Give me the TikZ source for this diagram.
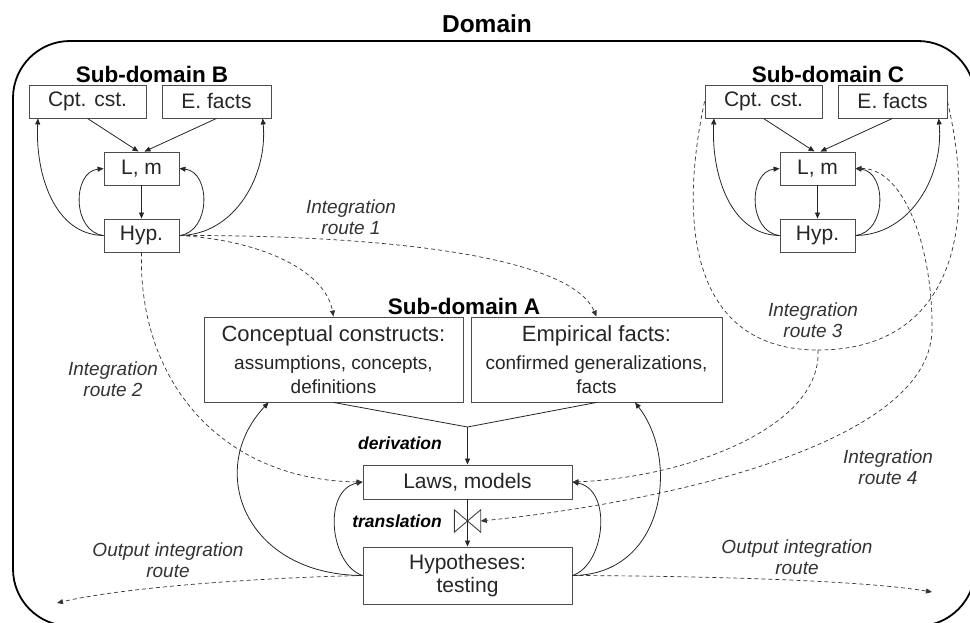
\documentclass[tikz,border=0pt]{standalone}
\usepackage{fontspec}
\setmainfont{Liberation Sans}
\usetikzlibrary{arrows.meta,calc}
\tikzset{
  box/.style={draw=black!70,line width=0.9pt,fill=white,inner sep=0pt,
              font=\fontsize{21}{23.5}\selectfont,text=black!85},
  abox/.style={box,align=center},
  ttl/.style={font=\bfseries\fontsize{22.5}{25}\selectfont},
  rlab/.style={font=\itshape\fontsize{19}{21.5}\selectfont,align=center,text=black!80},
  steplab/.style={font=\bfseries\itshape\fontsize{17.5}{20}\selectfont},
  arr/.style={-{Triangle[length=6pt,width=5pt]},line width=0.8pt,draw=black!85},
  dline/.style={line width=0.7pt,draw=black!80,dash pattern=on 4pt off 3pt},
  darr/.style={arr,dline},
  ddarr/.style={darr,{Triangle[length=6pt,width=5pt]}-{Triangle[length=6pt,width=5pt]}},
}
\newcommand{\subtxt}{\fontsize{19}{21}\selectfont}
\begin{document}
\begin{tikzpicture}[x=1pt,y=-1pt]
  \useasboundingbox (0,0) rectangle (970,623);
  % domain frame
  \draw[line width=1.8pt,rounded corners=57pt] (13,41) rectangle (975,626);
  \node[font=\bfseries\fontsize{24.5}{27}\selectfont] (dom) at (487,24) {Domain};

  % ---------- sub-domains B and C ----------
  \foreach \s/\dx/\t in {b/0/B,c/676/C}{
    \begin{scope}[shift={(\dx,0)}]
      \node[ttl] (\s title) at (152,74) {Sub-domain \t};
      \node[box,minimum width=117pt,minimum height=33pt] (\s cpt) at (87.5,101.5) {Cpt. cst.};
      \node[box,minimum width=109pt,minimum height=33pt] (\s ef) at (216.5,101.5) {E. facts};
      \node[box,minimum width=75pt,minimum height=33pt] (\s lm) at (141.5,168.5) {L, m};
      \node[box,minimum width=75pt,minimum height=33pt] (\s hyp) at (141.5,235.5) {Hyp.};
      \draw[arr] (\s cpt.south) -- ($(\s lm.north)+(-3,0)$);
      \draw[arr] (\s ef.south) -- ($(\s lm.north)+(3,0)$);
      \draw[arr] (\s lm) -- (\s hyp);
      \draw[arr] (\s hyp.west) .. controls (72,232) and (72,172) .. (\s lm.west);
      \draw[arr] (\s hyp.west) .. controls (55,235) and (35,175) .. ($(\s cpt.south west)!0.08!(\s cpt.south east)$);
      \draw[arr] (\s hyp.east) .. controls (211,232) and (211,172) .. (\s lm.east);
      \draw[arr] (\s hyp.east) .. controls (235,235) and (268,175) .. ($(\s ef.south west)!0.92!(\s ef.south east)$);
    \end{scope}
  }

  % ---------- sub-domain A ----------
  \node[ttl] (atitle) at (464,306) {Sub-domain A};
  \node[abox,minimum width=259pt,minimum height=85pt] (acc) at (333.5,359.5)
    {\fontsize{22}{24}\selectfont Conceptual constructs:\\[5pt]{\subtxt assumptions, concepts,}\\{\subtxt definitions}};
  \node[abox,minimum width=251pt,minimum height=85pt] (aef) at (596.5,359.5)
    {\fontsize{22}{24}\selectfont Empirical facts:\\[5pt]{\subtxt confirmed generalizations,}\\{\subtxt facts}};
  \node[box,minimum width=209pt,minimum height=34pt] (laws) at (467.5,482) {Laws, models};
  \node[abox,minimum width=209pt,minimum height=57pt] (hyp) at (467.5,575.5) {Hypotheses:\\testing};
  \coordinate (junc) at (467.5,427);
  \draw[line width=0.8pt,black!85] (acc.south) -- (junc) -- (aef.south);
  \draw[arr] (junc) -- (laws.north);
  \node[steplab] (deriv) at (400,443) {derivation};
  % valve
  \node[minimum width=26pt,minimum height=22pt,inner sep=0pt] (valve) at (467.5,521) {};
  \draw[line width=0.9pt,black!75] (valve.north west) -- (valve.south east) -- (valve.north east) -- (valve.south west) -- cycle;
  \draw[arr] (laws.south) -- (hyp.north);
  \node[steplab] (transl) at (397,521) {translation};

  % feedback loops
  \draw[arr] (hyp.west) .. controls (245,575) and (205,470) .. ($(acc.south west)!0.25!(acc.south east)$);
  \draw[arr] (hyp.west) .. controls (330,565) and (322,490) .. (laws.west);
  \draw[arr] (hyp.east) .. controls (605,565) and (613,490) .. (laws.east);
  \draw[arr] (hyp.east) .. controls (665,575) and (680,460) .. ($(aef.south west)!0.653!(aef.south east)$);

  % ---------- integration routes ----------
  \draw[darr] (bhyp.east) .. controls (260,240) and (325,270) .. (acc.north);
  \draw[darr] (bhyp.east) .. controls (380,235) and (570,255) .. (aef.north);
  \node[rlab] (r1) at (351,217) {Integration\\route 1};

  \draw[darr] (bhyp.south) .. controls (138,380) and (220,480) .. (laws.west);
  \node[rlab] (r2) at (113,379) {Integration\\route 2};

  \coordinate (m3) at (818,350);
  \draw[dline] (ccpt.west) .. controls (675,240) and (700,350) .. (m3);
  \draw[dline] (cef.east) .. controls (980,240) and (945,350) .. (m3);
  \draw[darr] (m3) .. controls (822,430) and (680,478) .. (laws.east);
  \node[rlab] (r3) at (813,320) {Integration\\route 3};

  \draw[ddarr] (clm.east) .. controls (905,168) and (933,250) .. (932,330)
    .. controls (930,450) and (640,505) .. (valve.east);
  \node[rlab] (r4) at (888,467) {Integration\\route 4};

  % output routes
  \coordinate (oleft) at (57,603);
  \coordinate (oright) at (932,592);
  \draw[darr] (hyp.west) .. controls (250,578) and (120,588) .. (oleft);
  \draw[darr] (hyp.east) .. controls (700,576) and (860,580) .. (oright);
  \node[rlab] (ol) at (168,560) {Output integration\\route};
  \node[rlab] (or) at (797,557) {Output integration\\route};
\end{tikzpicture}
\end{document}
